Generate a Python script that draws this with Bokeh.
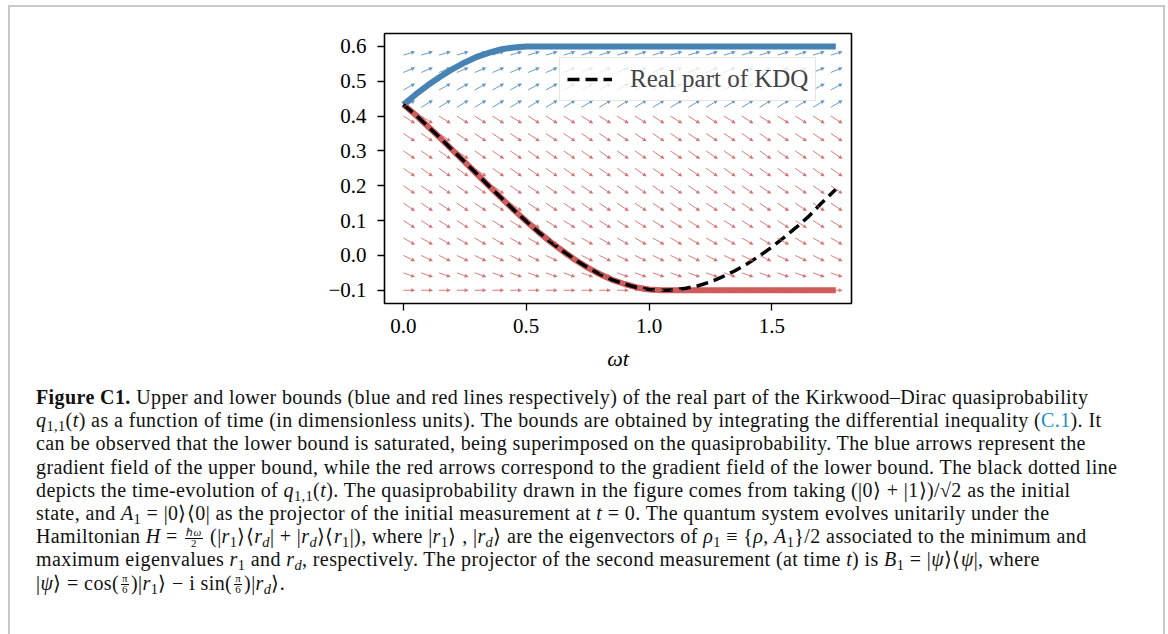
from bokeh.plotting import figure
from bokeh.models import (ColumnDataSource, Arrow, NormalHead, Range1d, FixedTicker,
                          Legend, LegendItem, Div)
from bokeh.layouts import column
from bokeh.embed import file_html
from bokeh.resources import INLINE

# ---------------- data ----------------
kdq_t = [0.00, 0.05, 0.10, 0.15, 0.20, 0.25, 0.30, 0.35, 0.40, 0.45, 0.50, 0.55,
         0.60, 0.65, 0.70, 0.75, 0.80, 0.85, 0.90, 0.95, 1.00, 1.05, 1.10, 1.15,
         1.20, 1.25, 1.30, 1.35, 1.40, 1.45, 1.50, 1.55, 1.60, 1.65, 1.70, 1.75, 1.76]
kdq_q = [0.433, 0.403, 0.370, 0.337, 0.302, 0.268, 0.233, 0.198, 0.164, 0.130, 0.098, 0.067,
         0.038, 0.012, -0.013, -0.035, -0.054, -0.070, -0.082, -0.092, -0.098, -0.100, -0.099, -0.094,
         -0.087, -0.076, -0.061, -0.044, -0.024, -0.001, 0.024, 0.052, 0.081, 0.112, 0.149, 0.183, 0.190]

upper_t = [0.00, 0.05, 0.10, 0.15, 0.20, 0.25, 0.30, 0.35, 0.40, 0.45, 0.50, 0.55, 1.76]
upper_q = [0.433, 0.462, 0.489, 0.513, 0.535, 0.554, 0.570, 0.582, 0.592, 0.597, 0.600, 0.600, 0.600]

lower_t = [0.00, 0.05, 0.10, 0.15, 0.20, 0.25, 0.30, 0.35, 0.40, 0.45, 0.50, 0.55,
           0.60, 0.65, 0.70, 0.75, 0.80, 0.85, 0.90, 0.95, 1.00, 1.05, 1.76]
lower_q = [0.433, 0.403, 0.370, 0.337, 0.302, 0.268, 0.233, 0.198, 0.164, 0.130, 0.098, 0.067,
           0.038, 0.012, -0.013, -0.035, -0.054, -0.070, -0.082, -0.092, -0.098, -0.100, -0.100]

x_ticks = [0.0, 0.5, 1.0, 1.5]
x_tick_labels = ["0.0", "0.5", "1.0", "1.5"]
y_ticks = [-0.1, 0.0, 0.1, 0.2, 0.3, 0.4, 0.5, 0.6]
y_tick_labels = ["\u22120.1", "0.0", "0.1", "0.2", "0.3", "0.4", "0.5", "0.6"]

# gradient-field sample grid and per-row slopes
field_cols = [0.0, 0.0725, 0.145, 0.2175, 0.29, 0.3625, 0.435, 0.5075, 0.58, 0.6525,
              0.725, 0.7975, 0.87, 0.9425, 1.015, 1.0875, 1.16, 1.2325, 1.305, 1.3775,
              1.45, 1.5225, 1.595, 1.6675, 1.74]
red_rows = [-0.1, -0.05, 0.0, 0.05, 0.1, 0.15, 0.2, 0.25, 0.3, 0.35, 0.4]
red_slopes = [0.0, -0.36, -0.49, -0.57, -0.63, -0.67, -0.69, -0.70, -0.69, -0.67, -0.63]
blue_rows = [0.425, 0.475, 0.525, 0.575]
blue_slopes = [0.61, 0.54, 0.43, 0.30]

legend_label = "Real part of KDQ"
x_label = "\u03c9t"

# ---------------- styles / layout ----------------
BLUE = "#4682b4"
RED = "#cd5c5c"
X0, X1 = -0.077, 1.824
Y0, Y1 = -0.138, 0.637
FRAME_W, FRAME_H = 467, 270
PLOT_W, PLOT_H = 1153, 375
BL, BT = 374, 26
BR = PLOT_W - BL - FRAME_W
BB = PLOT_H - BT - FRAME_H
ARROW_PX = 11.7
sx = FRAME_W / (X1 - X0)
sy = FRAME_H / (Y1 - Y0)
TICK_FONT = "Liberation Serif"

p = figure(width=PLOT_W, height=PLOT_H, output_backend="svg", toolbar_location=None,
           x_range=Range1d(X0, X1), y_range=Range1d(Y0, Y1),
           min_border_left=BL, min_border_right=BR, min_border_top=BT, min_border_bottom=BB,
           margin=0)
p.grid.visible = False
p.outline_line_color = "black"
p.outline_line_width = 1.6
p.background_fill_color = "white"
p.border_fill_color = "white"

def field(rows, slopes, color):
    xs0, ys0, xs1, ys1 = [], [], [], []
    for r, s in zip(rows, slopes):
        for c in field_cols:
            xs0.append(c)
            ys0.append(r)
            xs1.append(c + ARROW_PX / sx)
            ys1.append(r + s * ARROW_PX / sy)
    src = ColumnDataSource(dict(x0=xs0, y0=ys0, x1=xs1, y1=ys1))
    head = NormalHead(size=4, fill_color=color, line_color=color, fill_alpha=0.85,
                      line_alpha=0.0)
    a = Arrow(end=head, x_start="x0", y_start="y0", x_end="x1", y_end="y1", source=src,
              line_color=color, line_width=1.0, line_alpha=0.8)
    p.add_layout(a)

field(red_rows, red_slopes, RED)
field(blue_rows, blue_slopes, BLUE)

p.line(upper_t, upper_q, line_color=BLUE, line_width=6)
p.line(lower_t, lower_q, line_color=RED, line_width=6)
kd = p.line(kdq_t, kdq_q, line_color="black", line_width=3.5, line_dash="12 6")

for ax, ticks, labels in ((p.xaxis, x_ticks, x_tick_labels), (p.yaxis, y_ticks, y_tick_labels)):
    ax.ticker = FixedTicker(ticks=ticks)
    ax.major_label_overrides = dict(zip(ticks, labels))
    ax.axis_line_color = None
    ax.major_tick_line_color = "black"
    ax.major_tick_line_width = 1.3
    ax.major_tick_out = 7
    ax.major_tick_in = 0
    ax.minor_tick_line_color = None
    ax.major_label_text_font = TICK_FONT
    ax.major_label_text_font_size = "21px"
    ax.major_label_text_color = "black"
p.xaxis.major_label_standoff = 8
p.yaxis.major_label_standoff = 11

p.xaxis.axis_label = x_label
p.xaxis.axis_label_text_font = TICK_FONT
p.xaxis.axis_label_text_font_style = "italic"
p.xaxis.axis_label_text_font_size = "22px"
p.xaxis.axis_label_text_color = "black"
p.xaxis.axis_label_standoff = 10

leg = Legend(items=[LegendItem(label=legend_label, renderers=[kd])], location=(175, 202),
             label_text_font=TICK_FONT, label_text_font_size="25px",
             glyph_width=45, glyph_height=22, label_standoff=18, padding=7, margin=0,
             border_line_color="#cccccc", border_line_width=1.5, background_fill_alpha=0.8)
p.add_layout(leg, "center")

# ---------------- caption ----------------
def s(x):
    return f'<sub style="font-size:0.72em;vertical-align:-0.28em;line-height:0">{x}</sub>'

def frac(n, d):
    return ('<span style="display:inline-block;vertical-align:-0.35em;text-align:center;'
            'font-size:0.55em;line-height:0.9;margin:0 2px">'
            f'<span style="display:block;border-bottom:1px solid #000;padding:0 1px">{n}</span>'
            f'<span style="display:block">{d}</span></span>')

q11 = f'<i>q</i>{s("1,1")}(<i>t</i>)'
r1 = f'<i>r</i>{s("1")}'
rd = f'<i>r</i>{s("<i>d</i>")}'
A1 = f'<i>A</i>{s("1")}'
caption_lines = [
    '<b>Figure C1.</b> Upper and lower bounds (blue and red lines respectively) of the real part of the Kirkwood\u2013Dirac quasiprobability',
    f'{q11} as a function of time (in dimensionless units). The bounds are obtained by integrating the differential inequality (<span style="color:#1c8ac9">C.1</span>). It',
    'can be observed that the lower bound is saturated, being superimposed on the quasiprobability. The blue arrows represent the',
    'gradient field of the upper bound, while the red arrows correspond to the gradient field of the lower bound. The black dotted line',
    f'depicts the time-evolution of {q11}. The quasiprobability drawn in the figure comes from taking (|0\u27e9 + |1\u27e9)/\u221a2 as the initial',
    f'state, and {A1} = |0\u27e9\u27e80| as the projector of the initial measurement at <i>t</i> = 0. The quantum system evolves unitarily under the',
    f'Hamiltonian <i>H</i> = {frac("\u210f<i>\u03c9</i>", "2")} (|{r1}\u27e9\u27e8{rd}| + |{rd}\u27e9\u27e8{r1}|), where |{r1}\u27e9 , |{rd}\u27e9 are the eigenvectors of <i>\u03c1</i>{s("1")} \u2261 {{<i>\u03c1</i>, {A1}}}/2 associated to the minimum and',
    f'maximum eigenvalues {r1} and {rd}, respectively. The projector of the second measurement (at time <i>t</i>) is <i>B</i>{s("1")} = |<i>\u03c8</i>\u27e9\u27e8<i>\u03c8</i>|, where',
    f'|<i>\u03c8</i>\u27e9 = cos({frac("\u03c0", "6")})|{r1}\u27e9 \u2212 i sin({frac("\u03c0", "6")})|{rd}\u27e9.',
]
html = ''.join(f'<div style="white-space:nowrap;height:23.2px;line-height:23.2px;overflow:visible">{ln}</div>'
               for ln in caption_lines)
cap = Div(text=html, width=PLOT_W, height=270, margin=0,
          styles={"font-family": "'Liberation Serif', serif", "font-size": "20px", "color": "#111",
                  "letter-spacing": "0.4px",
                  "padding-left": "26px", "padding-top": "4px", "box-sizing": "border-box"})

layout = column(p, cap, margin=(5, 0, 0, 8), spacing=0,
                styles={"border-left": "2px solid #c8c8c8", "border-top": "2px solid #c8c8c8",
                        "border-right": "2px solid #c8c8c8"})

open("out.html", "w").write(file_html(layout, INLINE))
